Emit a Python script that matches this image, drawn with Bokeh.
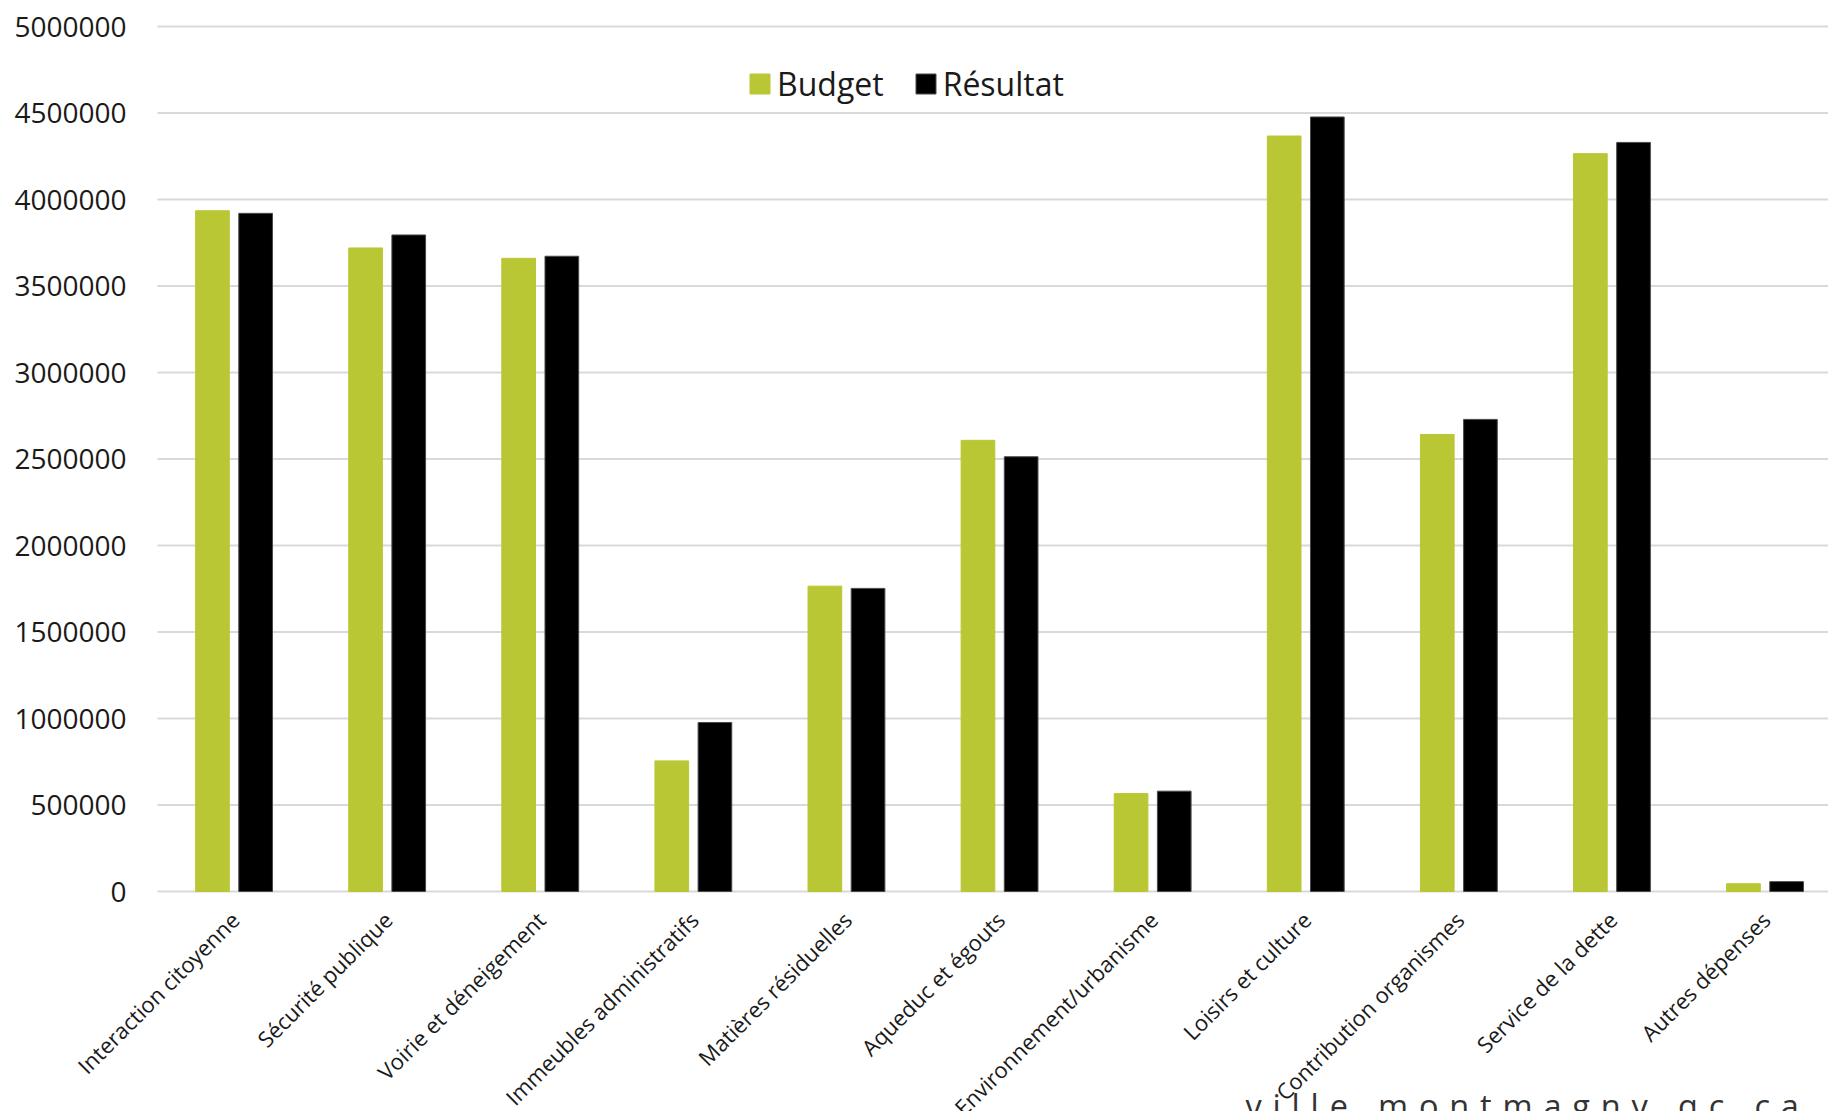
import math
from bokeh.plotting import figure
from bokeh.models import (ColumnDataSource, Range1d, FixedTicker, NumeralTickFormatter,
                          Legend, LegendItem)
from bokeh.core.properties import value
from bokeh.transform import dodge
from bokeh.embed import file_html
from bokeh.resources import INLINE

categories = ["Interaction citoyenne", "Sécurité publique", "Voirie et déneigement",
              "Immeubles administratifs", "Matières résiduelles", "Aqueduc et égouts",
              "Environnement/urbanisme", "Loisirs et culture", "Contribution organismes",
              "Service de la dette", "Autres dépenses"]
budget = [3935000, 3720000, 3660000, 755000, 1765000, 2608000, 566000, 4367000, 2642000, 4265000, 45000]
resultat = [3920000, 3795000, 3672000, 977000, 1752000, 2513000, 580000, 4477000, 2729000, 4330000, 57000]
y_ticks = [0, 500000, 1000000, 1500000, 2000000, 2500000, 3000000, 3500000, 4000000, 4500000, 5000000]
series_names = ["Budget", "Résultat"]
watermark = "ville.montmagny.qc.ca"

FONT = "Open Sans"
GREEN = "#b9c734"
TEXT = "#1a1a1a"

W, H = 1828, 1111
LEFT_PX = 157                  # canvas x where the category area starts
CAT_PX = 153.1                 # width of one category in px
ZERO_PX = 891                  # canvas y of value 0
TOP_PX = 26                    # canvas y of value 5 000 000
UNIT = 5000000 / (ZERO_PX - TOP_PX)
x_start = -LEFT_PX / CAT_PX
x_end = (W - LEFT_PX) / CAT_PX
y_end = 5000000 + TOP_PX * UNIT
y_start = -(H - ZERO_PX) * UNIT

xpos = [i + 0.5 for i in range(len(categories))]
src = ColumnDataSource(data=dict(x=xpos, budget=budget, resultat=resultat,
                                 lx=[x + 0.005 for x in xpos], ly=[0] * len(xpos),
                                 cat=categories))

p = figure(width=W, height=H, output_backend="svg", toolbar_location=None,
           x_range=Range1d(x_start, x_end), y_range=Range1d(y_start, y_end),
           min_border_left=0, min_border_right=0, min_border_top=0, min_border_bottom=0)
p.outline_line_color = None
p.background_fill_color = "white"
p.border_fill_color = "white"
p.xgrid.grid_line_color = None
p.ygrid.grid_line_color = None

# horizontal grid lines (start at the category area, like the original)
grid_src = ColumnDataSource(data=dict(y=y_ticks, x0=[0] * len(y_ticks), x1=[x_end] * len(y_ticks)))
p.segment(x0="x0", x1="x1", y0="y", y1="y", source=grid_src, line_color="#d9d9d9", line_width=2)

r1 = p.vbar(x=dodge("x", -0.141, range=p.x_range), top="budget", width=0.22, source=src,
            fill_color=GREEN, line_color=GREEN, line_width=1)
r2 = p.vbar(x=dodge("x", 0.141, range=p.x_range), top="resultat", width=0.22, source=src,
            fill_color="#000000", line_color="#4a4a4a", line_width=1)

# y axis drawn at the left edge of the category area
p.yaxis.fixed_location = 0
p.yaxis.ticker = FixedTicker(ticks=y_ticks)
p.yaxis.formatter = NumeralTickFormatter(format="0")
p.yaxis.axis_line_color = None
p.yaxis.major_tick_line_color = None
p.yaxis.minor_tick_line_color = None
p.yaxis.major_tick_out = 0
p.yaxis.major_tick_in = 0
p.yaxis.major_label_standoff = 31
p.yaxis.major_label_text_font = FONT
p.yaxis.major_label_text_font_size = "28px"
p.yaxis.major_label_text_color = TEXT

# x axis hidden; categories drawn as rotated text under the zero line
p.xaxis.visible = False
p.text(x="lx", y="ly", text="cat", source=src, angle=math.pi / 4,
       x_offset=0, y_offset=24, text_align="right", text_baseline="middle",
       text_font=value(FONT), text_font_size="22px", text_color=TEXT)

legend = Legend(items=[LegendItem(label=series_names[0], renderers=[r1]),
                       LegendItem(label=series_names[1], renderers=[r2])],
                orientation="horizontal", location=(747, H - 105),
                glyph_width=25, glyph_height=25, label_standoff=5, spacing=29,
                padding=0, margin=0, border_line_color=None, background_fill_alpha=0,
                label_text_font=FONT, label_text_font_size="32px", label_text_color=TEXT)
p.add_layout(legend)

wm_src = ColumnDataSource(data=dict(x=[(1245 - LEFT_PX) / CAT_PX], y=[-(1105 - ZERO_PX) * UNIT],
                                    t=["\u2004".join(list(watermark))]))
p.text(x="x", y="y", text="t", source=wm_src, text_align="left", text_baseline="middle",
       text_font=value(FONT), text_font_size="32.5px", text_color="#333333")

open("out.html", "w").write(file_html(p, INLINE))
